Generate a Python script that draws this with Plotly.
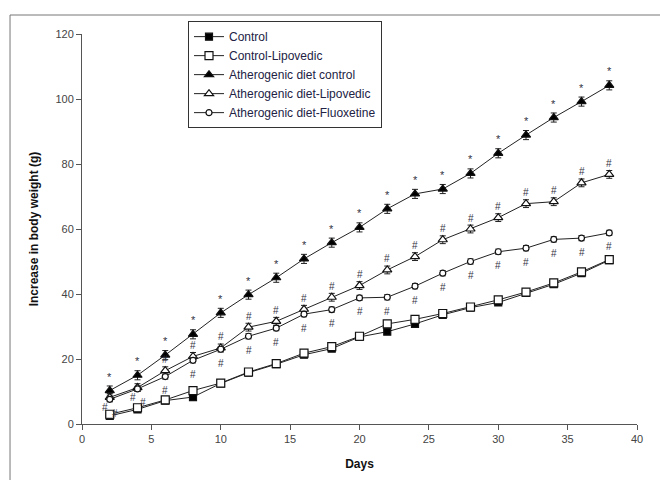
import plotly.graph_objects as go

days = [2, 4, 6, 8, 10, 12, 14, 16, 18, 20, 22, 24, 26, 28, 30, 32, 34, 36, 38]

control = [2.5, 4.5, 7.2, 8.3, 12.5, 15.8, 18.4, 21.3, 23.2, 26.8, 28.4, 30.8, 33.6, 35.8, 37.4, 40.3, 43.0, 46.4, 50.4]
control_lipovedic = [3.0, 5.0, 7.4, 10.3, 12.6, 16.0, 18.6, 21.8, 23.8, 27.0, 30.8, 32.2, 34.0, 36.0, 38.2, 40.6, 43.4, 46.8, 50.6]
ath_control = [10.3, 15.0, 21.2, 27.6, 34.2, 39.8, 45.0, 50.8, 55.8, 60.5, 66.2, 70.8, 72.3, 77.1, 83.3, 88.9, 94.3, 99.2, 104.2]
ath_lipovedic = [8.2, 11.2, 16.4, 20.8, 23.4, 29.8, 31.6, 35.3, 39.0, 42.6, 47.4, 51.5, 56.7, 60.0, 63.5, 67.8, 68.4, 74.2, 76.8]
ath_fluoxetine = [7.6, 10.8, 14.6, 19.6, 23.0, 27.0, 29.5, 33.8, 35.2, 38.8, 39.0, 42.4, 46.4, 50.0, 53.0, 54.1, 56.8, 57.2, 58.8]

err_control = [0.8] * 19
err_control_lipovedic = [0.6] * 19
err_ath_control = [1.4] * 19
err_ath_lipovedic = [1.2] * 19
err_ath_fluoxetine = [0.8] * 19

names = ["Control", "Control-Lipovedic", "Atherogenic diet control",
         "Atherogenic diet-Lipovedic", "Atherogenic diet-Fluoxetine"]

x_ticks = [0, 5, 10, 15, 20, 25, 30, 35, 40]
y_ticks = [0, 20, 40, 60, 80, 100, 120]

series = [
    (names[0], control, err_control, "square", "black", 7),
    (names[1], control_lipovedic, err_control_lipovedic, "square", "white", 8),
    (names[2], ath_control, err_ath_control, "triangle-up", "black", 8),
    (names[3], ath_lipovedic, err_ath_lipovedic, "triangle-up", "white", 8),
    (names[4], ath_fluoxetine, err_ath_fluoxetine, "circle", "white", 6),
]

fig = go.Figure()
for name, vals, err, sym, fill, size in series:
    fig.add_trace(go.Scatter(
        x=days, y=vals, name=name, mode="lines+markers",
        line=dict(color="#222222", width=1),
        marker=dict(symbol=sym, size=size, color=fill,
                    line=dict(color="#111111", width=1.2)),
        error_y=dict(type="data", array=err, visible=True, color="#222222",
                     thickness=1, width=3),
    ))

mark_font = dict(size=10, color="#333344")
annotations = []
# asterisks above atherogenic diet control
for d, v in zip(days, ath_control):
    annotations.append(dict(x=d, y=v, text="*", showarrow=False, yshift=14,
                            font=dict(size=11, color="#333344")))
# hashes for atherogenic diet-Lipovedic (above, except first points which are below)
for i, (d, v) in enumerate(zip(days, ath_lipovedic)):
    if i < 2:
        annotations.append(dict(x=d, y=v, text="#", showarrow=False, yshift=-10,
                                xshift=-5, font=mark_font))
    else:
        annotations.append(dict(x=d, y=v, text="#", showarrow=False, yshift=11,
                                font=mark_font))
# hashes for atherogenic diet-Fluoxetine (below)
for i, (d, v) in enumerate(zip(days, ath_fluoxetine)):
    if i < 2:
        annotations.append(dict(x=d, y=v, text="#", showarrow=False, yshift=-14,
                                xshift=5, font=mark_font))
    else:
        annotations.append(dict(x=d, y=v, text="#", showarrow=False, yshift=-14,
                                font=mark_font))

fig.update_layout(
    width=660, height=480,
    margin=dict(l=82, r=23, t=34, b=56),
    paper_bgcolor="white", plot_bgcolor="white",
    font=dict(family="Liberation Sans, Arial, sans-serif", color="#333333"),
    showlegend=True,
    legend=dict(x=0.191, y=1.033, xanchor="left", yanchor="top",
                bordercolor="#333333", borderwidth=1, bgcolor="white",
                font=dict(size=12, color="#222244"), tracegroupgap=0),
    annotations=annotations,
    xaxis=dict(range=[0, 40], tickvals=x_ticks, showgrid=False, zeroline=False,
               showline=True, linecolor="#555555", linewidth=1,
               ticks="outside", ticklen=5, tickcolor="#555555",
               tickfont=dict(size=11, color="#444444"), automargin=False,
               title=dict(text="<b>Days</b>", font=dict(size=12, color="#111111"), standoff=15)),
    yaxis=dict(range=[0, 120], tickvals=y_ticks, showgrid=False, zeroline=False,
               showline=True, linecolor="#555555", linewidth=1,
               ticks="outside", ticklen=5, tickcolor="#555555",
               tickfont=dict(size=11, color="#444444"), automargin=False,
               title=dict(text="<b>Increase in body weight (g)</b>",
                          font=dict(size=12, color="#111111"), standoff=14)),
    shapes=[
        dict(type="line", xref="paper", yref="paper", x0=-0.1297, x1=1.05,
             y0=1.0487, y1=1.0487, line=dict(color="#777777", width=1)),
        dict(type="line", xref="paper", yref="paper", x0=-0.1297, x1=-0.1297,
             y0=1.0487, y1=-0.16, line=dict(color="#777777", width=1)),
    ],
)

fig.write_html(
    "out.html",
    config={"displayModeBar": False},
    post_script="document.body.style.margin='0';document.body.style.overflow='hidden';",
)
